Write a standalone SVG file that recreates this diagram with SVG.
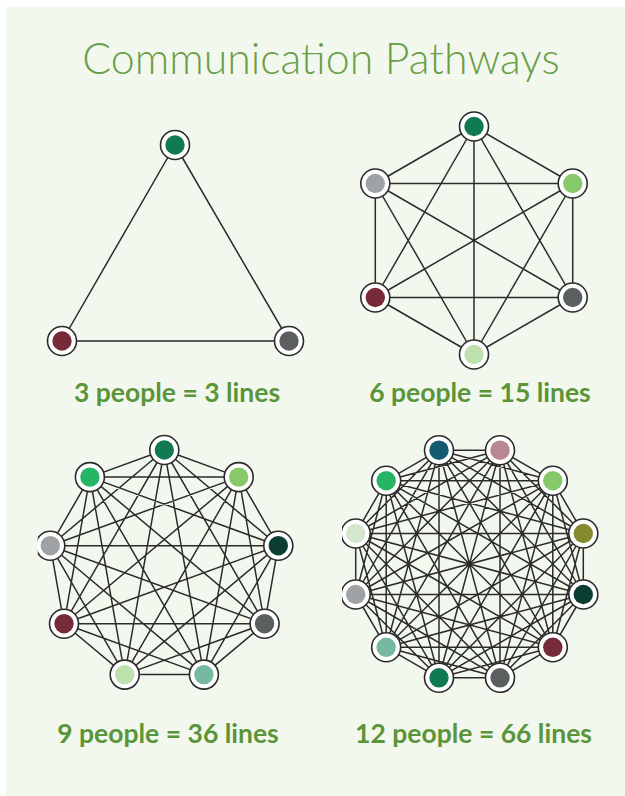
<svg xmlns="http://www.w3.org/2000/svg" width="625" height="796" viewBox="0 0 625 796">
<style>
.bg{fill:#f3f8ee}
.title{font-family:Lato,"Liberation Sans",sans-serif;font-weight:300;font-size:42.8px;fill:#6a9f48;text-anchor:middle}
.lbl{font-family:Lato,"Liberation Sans",sans-serif;font-weight:700;font-size:26.5px;fill:#5b9539;text-anchor:middle}
.edges{fill:none;stroke:#2b2b2b;stroke-width:1.5}
.ring{fill:#fff;stroke:#2b2b2b;stroke-width:1.6}
</style>
<defs>
<clipPath id="clip9"><rect x="37.7" y="420" width="280" height="290"/></clipPath>
<clipPath id="clip12"><rect x="342" y="420" width="283" height="290"/></clipPath>
</defs>
<rect class="bg" x="6" y="7" width="619" height="789"/>
<text class="title" x="321" y="73.5">Communication Pathways</text>

<g id="connectors">
<path class="edges" d="M175 145L62 341M175 145L289 341M62 341L289 341"/>
<path class="edges" d="M474 126.5L572.7 183.5M474 126.5L572.7 297.5M474 126.5L474 354.5M474 126.5L375.3 297.5M474 126.5L375.3 183.5M572.7 183.5L572.7 297.5M572.7 183.5L474 354.5M572.7 183.5L375.3 297.5M572.7 183.5L375.3 183.5M572.7 297.5L474 354.5M572.7 297.5L375.3 297.5M572.7 297.5L375.3 183.5M474 354.5L375.3 297.5M474 354.5L375.3 183.5M375.3 297.5L375.3 183.5"/>
<path class="edges" clip-path="url(#clip9)" d="M164.3 450L238.7 477.1M164.3 450L278.3 545.7M164.3 450L264.6 623.7M164.3 450L203.9 674.6M164.3 450L124.7 674.6M164.3 450L64 623.7M164.3 450L50.3 545.7M164.3 450L89.9 477.1M238.7 477.1L278.3 545.7M238.7 477.1L264.6 623.7M238.7 477.1L203.9 674.6M238.7 477.1L124.7 674.6M238.7 477.1L64 623.7M238.7 477.1L50.3 545.7M238.7 477.1L89.9 477.1M278.3 545.7L264.6 623.7M278.3 545.7L203.9 674.6M278.3 545.7L124.7 674.6M278.3 545.7L64 623.7M278.3 545.7L50.3 545.7M278.3 545.7L89.9 477.1M264.6 623.7L203.9 674.6M264.6 623.7L124.7 674.6M264.6 623.7L64 623.7M264.6 623.7L50.3 545.7M264.6 623.7L89.9 477.1M203.9 674.6L124.7 674.6M203.9 674.6L64 623.7M203.9 674.6L50.3 545.7M203.9 674.6L89.9 477.1M124.7 674.6L64 623.7M124.7 674.6L50.3 545.7M124.7 674.6L89.9 477.1M64 623.7L50.3 545.7M64 623.7L89.9 477.1M50.3 545.7L89.9 477.1"/>
<path class="edges" clip-path="url(#clip12)" d="M500 450.2L552.8 480.7M500 450.2L583.3 533.5M500 450.2L583.3 594.5M500 450.2L552.8 647.3M500 450.2L500 677.8M500 450.2L439 677.8M500 450.2L386.2 647.3M500 450.2L355.7 594.5M500 450.2L355.7 533.5M500 450.2L386.2 480.7M500 450.2L439 450.2
M552.8 480.7L583.3 533.5M552.8 480.7L583.3 594.5M552.8 480.7L552.8 647.3M552.8 480.7L500 677.8M552.8 480.7L439 677.8M552.8 480.7L386.2 647.3M552.8 480.7L355.7 594.5M552.8 480.7L355.7 533.5M552.8 480.7L386.2 480.7M552.8 480.7L439 450.2
M583.3 533.5L583.3 594.5M583.3 533.5L552.8 647.3M583.3 533.5L500 677.8M583.3 533.5L439 677.8M583.3 533.5L386.2 647.3M583.3 533.5L355.7 594.5M583.3 533.5L355.7 533.5M583.3 533.5L386.2 480.7M583.3 533.5L439 450.2
M583.3 594.5L552.8 647.3M583.3 594.5L500 677.8M583.3 594.5L439 677.8M583.3 594.5L386.2 647.3M583.3 594.5L355.7 594.5M583.3 594.5L355.7 533.5M583.3 594.5L386.2 480.7M583.3 594.5L439 450.2
M552.8 647.3L500 677.8M552.8 647.3L439 677.8M552.8 647.3L386.2 647.3M552.8 647.3L355.7 594.5M552.8 647.3L355.7 533.5M552.8 647.3L386.2 480.7M552.8 647.3L439 450.2
M500 677.8L439 677.8M500 677.8L386.2 647.3M500 677.8L355.7 594.5M500 677.8L355.7 533.5M500 677.8L386.2 480.7M500 677.8L439 450.2
M439 677.8L386.2 647.3M439 677.8L355.7 594.5M439 677.8L355.7 533.5M439 677.8L386.2 480.7M439 677.8L439 450.2
M386.2 647.3L355.7 594.5M386.2 647.3L355.7 533.5M386.2 647.3L386.2 480.7M386.2 647.3L439 450.2
M355.7 594.5L355.7 533.5M355.7 594.5L386.2 480.7M355.7 594.5L439 450.2
M355.7 533.5L386.2 480.7M355.7 533.5L439 450.2
M386.2 480.7L439 450.2"/>
</g>

<g id="graph3">
<g id="n3-1"><circle class="ring" cx="175" cy="145" r="14.5"/><circle cx="175" cy="145" r="9.7" fill="#117a50"/></g>
<g id="n3-2"><circle class="ring" cx="289" cy="341" r="14.5"/><circle cx="289" cy="341" r="9.7" fill="#5c5f60"/></g>
<g id="n3-3"><circle class="ring" cx="62" cy="341" r="14.5"/><circle cx="62" cy="341" r="9.7" fill="#772a38"/></g>
</g>

<g id="graph6">
<g id="n6-1"><circle class="ring" cx="474" cy="126.5" r="14.5"/><circle cx="474" cy="126.5" r="9.7" fill="#117a50"/></g>
<g id="n6-2"><circle class="ring" cx="572.7" cy="183.5" r="14.5"/><circle cx="572.7" cy="183.5" r="9.7" fill="#86c86a"/></g>
<g id="n6-3"><circle class="ring" cx="572.7" cy="297.5" r="14.5"/><circle cx="572.7" cy="297.5" r="9.7" fill="#5c5f60"/></g>
<g id="n6-4"><circle class="ring" cx="474" cy="354.5" r="14.5"/><circle cx="474" cy="354.5" r="9.7" fill="#bde0ac"/></g>
<g id="n6-5"><circle class="ring" cx="375.3" cy="297.5" r="14.5"/><circle cx="375.3" cy="297.5" r="9.7" fill="#772a38"/></g>
<g id="n6-6"><circle class="ring" cx="375.3" cy="183.5" r="14.5"/><circle cx="375.3" cy="183.5" r="9.7" fill="#9fa2a4"/></g>
</g>

<g id="graph9" clip-path="url(#clip9)">
<g id="n9-1"><circle class="ring" cx="164.3" cy="450" r="14.5"/><circle cx="164.3" cy="450" r="9.7" fill="#117a50"/></g>
<g id="n9-2"><circle class="ring" cx="238.7" cy="477.1" r="14.5"/><circle cx="238.7" cy="477.1" r="9.7" fill="#86c86a"/></g>
<g id="n9-3"><circle class="ring" cx="278.3" cy="545.7" r="14.5"/><circle cx="278.3" cy="545.7" r="9.7" fill="#0b3d30"/></g>
<g id="n9-4"><circle class="ring" cx="264.6" cy="623.7" r="14.5"/><circle cx="264.6" cy="623.7" r="9.7" fill="#5c5f60"/></g>
<g id="n9-5"><circle class="ring" cx="203.9" cy="674.6" r="14.5"/><circle cx="203.9" cy="674.6" r="9.7" fill="#77b8a0"/></g>
<g id="n9-6"><circle class="ring" cx="124.7" cy="674.6" r="14.5"/><circle cx="124.7" cy="674.6" r="9.7" fill="#bde0ac"/></g>
<g id="n9-7"><circle class="ring" cx="64" cy="623.7" r="14.5"/><circle cx="64" cy="623.7" r="9.7" fill="#772a38"/></g>
<g id="n9-8"><circle class="ring" cx="50.3" cy="545.7" r="14.5"/><circle cx="50.3" cy="545.7" r="9.7" fill="#9fa2a4"/></g>
<g id="n9-9"><circle class="ring" cx="89.9" cy="477.1" r="14.5"/><circle cx="89.9" cy="477.1" r="9.7" fill="#25b565"/></g>
</g>

<g id="graph12" clip-path="url(#clip12)">
<g id="n12-1"><circle class="ring" cx="500" cy="450.2" r="14.5"/><circle cx="500" cy="450.2" r="9.7" fill="#b8878f"/></g>
<g id="n12-2"><circle class="ring" cx="552.8" cy="480.7" r="14.5"/><circle cx="552.8" cy="480.7" r="9.7" fill="#86c86a"/></g>
<g id="n12-3"><circle class="ring" cx="583.3" cy="533.5" r="14.5"/><circle cx="583.3" cy="533.5" r="9.7" fill="#858a31"/></g>
<g id="n12-4"><circle class="ring" cx="583.3" cy="594.5" r="14.5"/><circle cx="583.3" cy="594.5" r="9.7" fill="#0b3d30"/></g>
<g id="n12-5"><circle class="ring" cx="552.8" cy="647.3" r="14.5"/><circle cx="552.8" cy="647.3" r="9.7" fill="#772a38"/></g>
<g id="n12-6"><circle class="ring" cx="500" cy="677.8" r="14.5"/><circle cx="500" cy="677.8" r="9.7" fill="#5c5f60"/></g>
<g id="n12-7"><circle class="ring" cx="439" cy="677.8" r="14.5"/><circle cx="439" cy="677.8" r="9.7" fill="#117a50"/></g>
<g id="n12-8"><circle class="ring" cx="386.2" cy="647.3" r="14.5"/><circle cx="386.2" cy="647.3" r="9.7" fill="#77b8a0"/></g>
<g id="n12-9"><circle class="ring" cx="355.7" cy="594.5" r="14.5"/><circle cx="355.7" cy="594.5" r="9.7" fill="#9fa2a4"/></g>
<g id="n12-10"><circle class="ring" cx="355.7" cy="533.5" r="14.5"/><circle cx="355.7" cy="533.5" r="9.7" fill="#d4e7cc"/></g>
<g id="n12-11"><circle class="ring" cx="386.2" cy="480.7" r="14.5"/><circle cx="386.2" cy="480.7" r="9.7" fill="#25b565"/></g>
<g id="n12-12"><circle class="ring" cx="439" cy="450.2" r="14.5"/><circle cx="439" cy="450.2" r="9.7" fill="#13596f"/></g>
</g>

<text class="lbl" x="177" y="402">3 people = 3 lines</text>
<text class="lbl" x="480" y="402">6 people = 15 lines</text>
<text class="lbl" x="168" y="743">9 people = 36 lines</text>
<text class="lbl" x="473.5" y="743">12 people = 66 lines</text>
</svg>
